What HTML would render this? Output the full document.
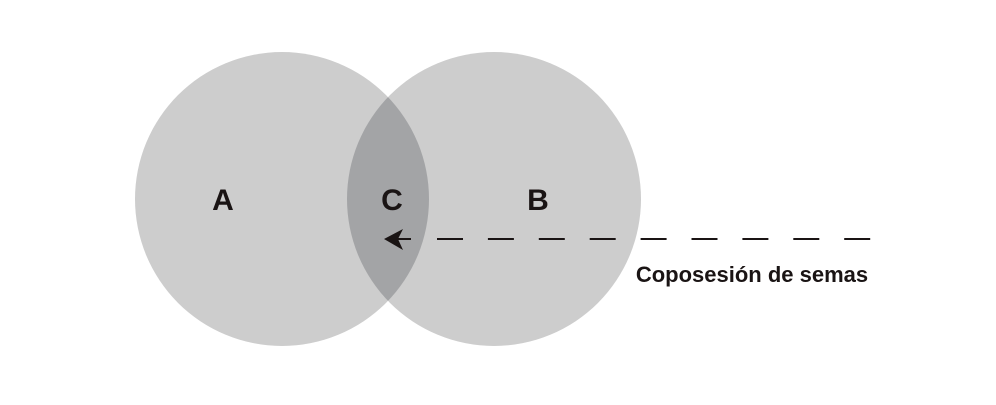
<!DOCTYPE html>
<html><head><meta charset="utf-8"><style>body{margin:0;background:#fff}</style></head>
<body>
<svg width="996" height="400" viewBox="0 0 996 400" xmlns="http://www.w3.org/2000/svg">
<defs><clipPath id="ca"><circle cx="282" cy="199" r="147"/></clipPath></defs>
<circle cx="282" cy="199" r="147" fill="#cdcdcd"/>
<circle cx="494" cy="199" r="147" fill="#cdcdcd"/>
<circle cx="494" cy="199" r="147" fill="#a3a4a6" clip-path="url(#ca)"/>
<g font-family="Liberation Sans, sans-serif" font-weight="bold" font-size="30" fill="#1a1414" text-anchor="middle">
<text x="223" y="210">A</text><text x="392" y="210">C</text><text x="538" y="210">B</text>
</g>
<line x1="398" y1="239" x2="411" y2="239" stroke="#1a1414" stroke-width="2"/>
<path d="M384,239 L403,229 L398,239 L403,250 Z" fill="#1a1414"/>
<line x1="437" y1="239" x2="871" y2="239" stroke="#1a1414" stroke-width="2" stroke-dasharray="26 24.9"/>
<text x="752" y="282" font-family="Liberation Sans, sans-serif" font-weight="bold" font-size="22" fill="#1a1414" text-anchor="middle">Coposesión de semas</text>
</svg>
</body></html>
